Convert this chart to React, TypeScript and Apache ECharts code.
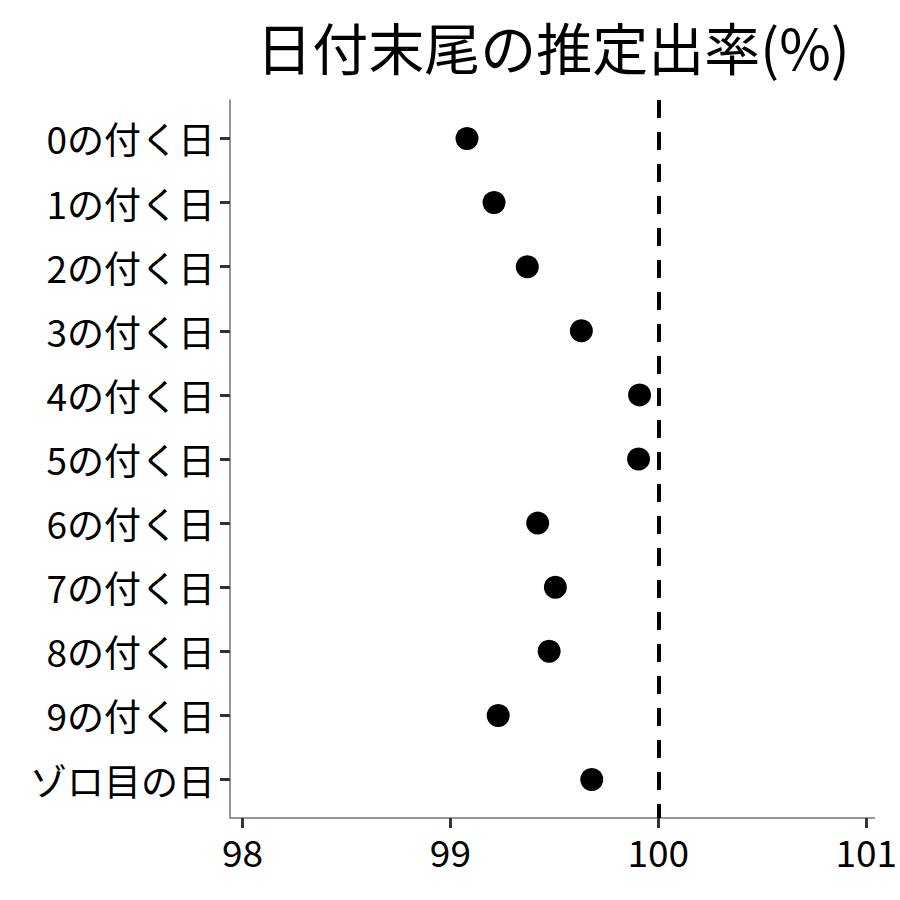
import React, { useEffect, useRef } from "react";
import * as echarts from "echarts";

const categories = [
  "0の付く日",
  "1の付く日",
  "2の付く日",
  "3の付く日",
  "4の付く日",
  "5の付く日",
  "6の付く日",
  "7の付く日",
  "8の付く日",
  "9の付く日",
  "ゾロ目の日",
];
const rates = [99.08, 99.21, 99.37, 99.63, 99.91, 99.905, 99.42, 99.505, 99.475, 99.23, 99.68];
const xTicks = [98, 99, 100, 101];
const refValue = 100;
const titleText = "日付末尾の推定出率(%)";

const FONT = "'Noto Sans CJK JP', 'Noto Sans', sans-serif";

export default function App() {
  const ref = useRef<HTMLDivElement>(null);
  useEffect(() => {
    document.body.style.margin = "0";
    if (!ref.current) return;
    const chart = echarts.init(ref.current, undefined, { renderer: "svg" });
    const yIdx = categories.map((_, i) => i);
    chart.setOption({
      animation: false,
      backgroundColor: "#ffffff",
      textStyle: { fontFamily: FONT },
      graphic: [
        {
          type: "text",
          x: 553,
          y: 45,
          style: {
            text: titleText,
            fontSize: 56,
            fontFamily: FONT,
            fill: "#000",
            textAlign: "center",
            textVerticalAlign: "middle",
          },
        },
      ],
      grid: { left: 230, right: 25, top: 100, bottom: 82, containLabel: false },
      xAxis: {
        type: "value",
        min: 97.94,
        max: 101.04,
        axisLine: { show: true, onZero: false, lineStyle: { color: "#777", width: 1.5 } },
        axisTick: {
          show: true,
          customValues: xTicks,
          length: 10,
          lineStyle: { color: "#333", width: 3 },
        },
        axisLabel: {
          customValues: xTicks,
          fontSize: 37,
          color: "#000",
          margin: 14,
          fontFamily: FONT,
          formatter: (v: number) => String(Math.round(v)),
        },
        splitLine: { show: false },
      },
      yAxis: {
        type: "value",
        inverse: true,
        min: -0.6,
        max: 10.6,
        axisLine: { show: true, onZero: false, lineStyle: { color: "#777", width: 1.5 } },
        axisTick: {
          show: true,
          customValues: yIdx,
          length: 10,
          lineStyle: { color: "#333", width: 3 },
        },
        axisLabel: {
          customValues: yIdx,
          fontSize: 37,
          color: "#000",
          margin: 15,
          fontFamily: FONT,
          formatter: (v: number) => categories[Math.round(v)] ?? "",
        },
        splitLine: { show: false },
      },
      series: [
        {
          type: "scatter",
          data: rates.map((r, i) => [r, i]),
          symbol: "circle",
          symbolSize: 23,
          itemStyle: { color: "#000", opacity: 1 },
          markLine: {
            silent: true,
            symbol: "none",
            label: { show: false },
            lineStyle: { color: "#000", width: 4, type: [18, 14] },
            data: [{ xAxis: refValue }],
          },
          z: 3,
        },
      ],
    });
    return () => chart.dispose();
  }, []);
  return <div ref={ref} style={{ width: 900, height: 900 }} />;
}
